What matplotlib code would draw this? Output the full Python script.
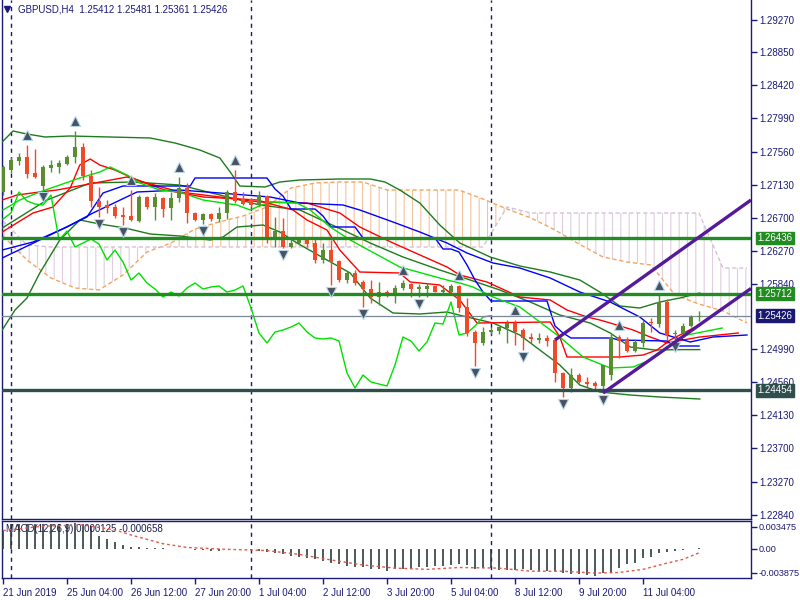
import matplotlib
matplotlib.use("Agg")
import matplotlib.pyplot as plt
import matplotlib.transforms as mtransforms
from matplotlib.lines import Line2D
import numpy as np

plt.rcParams["font.family"] = ["Liberation Sans", "DejaVu Sans"]

# GBPUSD H4 candles, bar 0 = 21 Jun 20:00
opens = [1.27034, 1.27320, 1.27437, 1.27489, 1.27281, 1.27112, 1.27346, 1.27359, 1.27398, 1.27489,
         1.27619, 1.27242, 1.26917, 1.26865, 1.26839, 1.26735, 1.26722, 1.26657, 1.26969, 1.26839,
         1.26956, 1.26826, 1.26956, 1.27086, 1.26761, 1.26670, 1.26748, 1.26683, 1.26761, 1.27034,
         1.26943, 1.26943, 1.26865, 1.26982, 1.26410, 1.26527, 1.26319, 1.26371, 1.26423, 1.26371,
         1.26150, 1.26280, 1.26137, 1.25890, 1.25981, 1.25864, 1.25773, 1.25669, 1.25734, 1.25695,
         1.25786, 1.25838, 1.25773, 1.25773, 1.25812, 1.25734, 1.25734, 1.25812, 1.25539, 1.25214,
         1.25071, 1.25214, 1.25227, 1.25266, 1.25331, 1.25240, 1.25149, 1.25110, 1.25136, 1.25110,
         1.24681, 1.24486, 1.24655, 1.24564, 1.24551, 1.24512, 1.24655, 1.25149, 1.25123, 1.24967,
         1.25071, 1.25331, 1.25318, 1.25604, 1.25188, 1.25201, 1.25292, 1.25412]
highs = [1.27385, 1.27489, 1.27541, 1.27645, 1.27593, 1.27385, 1.27450, 1.27450, 1.27515, 1.27827,
         1.27671, 1.27320, 1.27099, 1.26930, 1.26878, 1.26839, 1.27060, 1.26995, 1.26982, 1.27021,
         1.26969, 1.27034, 1.27229, 1.27151, 1.26774, 1.26761, 1.26761, 1.26839, 1.27060, 1.27320,
         1.27034, 1.26956, 1.27047, 1.26995, 1.26709, 1.26696, 1.26449, 1.26449, 1.26449, 1.26449,
         1.26371, 1.26410, 1.26150, 1.26007, 1.26020, 1.25890, 1.25890, 1.25864, 1.25760, 1.25825,
         1.25890, 1.25851, 1.25838, 1.25851, 1.25812, 1.25825, 1.25838, 1.25825, 1.25656, 1.25240,
         1.25279, 1.25279, 1.25279, 1.25370, 1.25370, 1.25266, 1.25201, 1.25201, 1.25175, 1.25136,
         1.24694, 1.24746, 1.24681, 1.24629, 1.24577, 1.24785, 1.25188, 1.25175, 1.25149, 1.25123,
         1.25370, 1.25396, 1.25695, 1.25643, 1.25240, 1.25331, 1.25435, 1.25481]
lows = [1.26995, 1.27281, 1.27385, 1.27216, 1.27216, 1.27060, 1.27294, 1.27281, 1.27385, 1.27411,
        1.27190, 1.26839, 1.26709, 1.26761, 1.26696, 1.26605, 1.26657, 1.26644, 1.26813, 1.26670,
        1.26709, 1.26670, 1.26904, 1.26631, 1.26657, 1.26618, 1.26657, 1.26644, 1.26683, 1.26891,
        1.26865, 1.26839, 1.26852, 1.26371, 1.26319, 1.26306, 1.26306, 1.26345, 1.26319, 1.26111,
        1.26111, 1.25825, 1.25864, 1.25851, 1.25825, 1.25539, 1.25591, 1.25565, 1.25669, 1.25591,
        1.25760, 1.25669, 1.25669, 1.25669, 1.25734, 1.25695, 1.25721, 1.25474, 1.25162, 1.24772,
        1.25045, 1.25188, 1.25188, 1.25071, 1.25045, 1.24980, 1.25071, 1.25071, 1.25032, 1.24564,
        1.24369, 1.24434, 1.24551, 1.24499, 1.24460, 1.24421, 1.24590, 1.24876, 1.24954, 1.24954,
        1.25019, 1.25214, 1.25279, 1.25110, 1.25110, 1.25175, 1.25279, 1.25361]
closes = [1.27359, 1.27450, 1.27489, 1.27268, 1.27229, 1.27359, 1.27385, 1.27411, 1.27489, 1.27619,
          1.27242, 1.26917, 1.26839, 1.26826, 1.26722, 1.26709, 1.26670, 1.26969, 1.26839, 1.26969,
          1.26813, 1.26956, 1.27086, 1.26761, 1.26670, 1.26748, 1.26683, 1.26761, 1.27034, 1.26917,
          1.26878, 1.26865, 1.26995, 1.26410, 1.26527, 1.26319, 1.26371, 1.26423, 1.26358, 1.26150,
          1.26280, 1.26124, 1.25890, 1.25981, 1.25851, 1.25773, 1.25669, 1.25734, 1.25682, 1.25786,
          1.25851, 1.25773, 1.25799, 1.25812, 1.25734, 1.25760, 1.25812, 1.25526, 1.25201, 1.25071,
          1.25214, 1.25240, 1.25279, 1.25331, 1.25214, 1.25136, 1.25123, 1.25136, 1.25097, 1.24681,
          1.24486, 1.24655, 1.24564, 1.24538, 1.24512, 1.24785, 1.25149, 1.25097, 1.24967, 1.25084,
          1.25331, 1.25318, 1.25604, 1.25175, 1.25201, 1.25292, 1.25409, 1.25426]

date_ticks = [0, 8, 16, 24, 32, 40, 48, 56, 64, 72, 80]
date_labels = ["21 Jun 2019", "25 Jun 04:00", "26 Jun 12:00", "27 Jun 20:00", "1 Jul 04:00",
               "2 Jul 12:00", "3 Jul 20:00", "5 Jul 04:00", "8 Jul 12:00", "9 Jul 20:00", "11 Jul 04:00"]
week_starts = [1, 31, 61]
price_ticks = [1.29270, 1.28850, 1.28420, 1.27990, 1.27560, 1.27130, 1.26700, 1.26270, 1.25840,
               1.24990, 1.24560, 1.24130, 1.23700, 1.23270, 1.22840]

# Bollinger bands
bb_up_x = [-0.1, 1.25, 3, 5.25, 8.4, 13.4, 18.4, 21.5, 24.6, 27.1, 28.4, 29.6, 32.75, 34.6, 37.1, 42.1,
           45.9, 47.75, 49.6, 52.1, 54.6, 57.1, 60.9, 64.6, 68.4, 72.1, 74.6, 77.1, 79.6, 82.1, 84.6, 87.1]
bb_up = [1.27684, 1.27827, 1.27788, 1.27749, 1.27762, 1.27749, 1.27736, 1.27671, 1.2758, 1.27476, 1.27294,
         1.27112, 1.27099, 1.27164, 1.2719, 1.27203, 1.27203, 1.27164, 1.2706, 1.26891, 1.26605, 1.26371,
         1.26189, 1.26072, 1.25994, 1.2589, 1.25734, 1.25552, 1.25526, 1.25604, 1.25656, 1.25721]
bb_mid_x = [-0.1, 5.5, 10.9, 16.25, 22.1, 27.1, 32.1, 37.1, 42.5, 45.9, 50, 54.6, 58.4, 62.1, 65.9,
            69.6, 73.4, 75.9, 78.4, 81.5, 84.6, 87.1]
bb_mid = [1.26566, 1.2693, 1.27151, 1.27164, 1.27125, 1.26995, 1.26865, 1.268, 1.2654, 1.26371, 1.26189,
          1.2602, 1.2589, 1.2576, 1.25604, 1.25435, 1.25331, 1.25201, 1.25019, 1.2498, 1.24985, 1.24985]
bb_lo_x = [-0.1, 1.5, 3, 4.6, 7.1, 9.6, 12.1, 15.25, 18.4, 22.1, 25.9, 27.5, 29.25, 32.5, 34.6, 36.75,
           40.5, 43.4, 45.9, 48.75, 52.1, 55.5, 58, 61.25, 64.6, 67.1, 69.6, 72.1, 74.6, 78.4, 82.1, 87.1]
bb_lo = [1.2524, 1.255, 1.25656, 1.25981, 1.2641, 1.2667, 1.26618, 1.26566, 1.26488, 1.26462, 1.2641,
         1.26449, 1.26579, 1.26605, 1.26514, 1.26371, 1.2615, 1.25981, 1.25656, 1.25461, 1.25448, 1.25474,
         1.25409, 1.25331, 1.25175, 1.2498, 1.24785, 1.24525, 1.24434, 1.24395, 1.24369, 1.24343]

# Ichimoku tenkan / kijun
tenkan_x = [-0.1, 3.75, 6.25, 8.4, 9.6, 10.9, 12.1, 14, 15.9, 17.75, 20.25, 25, 31.75, 36.25, 38, 40.5,
            42.1, 44.6, 49.6, 50.9, 54.6, 57.1, 59.25, 68.4, 69.6, 70.5, 77.1, 80, 81.75, 83.4, 87]
tenkan = [1.26514, 1.26761, 1.26839, 1.27086, 1.27385, 1.27463, 1.27385, 1.2732, 1.27229, 1.27151, 1.2706,
          1.26969, 1.2693, 1.268, 1.2667, 1.2654, 1.2628, 1.25994, 1.25981, 1.25864, 1.25825, 1.2563,
          1.25331, 1.25344, 1.25149, 1.24889, 1.24889, 1.24915, 1.2498, 1.2511, 1.25305]
kijun_x = [-0.1, 4.6, 10.5, 12.5, 15, 23.4, 24, 33, 34, 35, 36, 39, 40, 41, 44, 45, 54, 55, 56, 57, 58,
           59, 60, 61, 68, 69, 70, 71, 76, 77, 83, 84, 87]
kijun = [1.26176, 1.2641, 1.26709, 1.27021, 1.27112, 1.27112, 1.27216, 1.27216, 1.27073, 1.26982, 1.26813,
         1.26813, 1.26722, 1.26579, 1.26579, 1.26436, 1.26436, 1.26293, 1.26293, 1.26254, 1.26085, 1.2589,
         1.25734, 1.25617, 1.25617, 1.25292, 1.25201, 1.25136, 1.25136, 1.2511, 1.25097, 1.25032, 1.25032]

# Alligator jaw / teeth / lips (shifted forward)
jaw_x = [-0.1, 3.75, 8, 11.25, 16.75, 22.1, 27.1, 33.4, 37.1, 42.5, 44.6, 48.75, 52.1, 55.5, 58, 61.25,
         64.6, 68.4, 72.1, 75.9, 79.6, 82.1, 85.9, 88.75, 93]
jaw = [1.2628, 1.26384, 1.26579, 1.26761, 1.27034, 1.2706, 1.27021, 1.26969, 1.26891, 1.26865, 1.268,
       1.26644, 1.26514, 1.26371, 1.26241, 1.26111, 1.26046, 1.25916, 1.25734, 1.25604, 1.25409, 1.25201,
       1.25084, 1.25149, 1.25175]
teeth_x = [-0.1, 1.75, 4.6, 6.75, 15.5, 18, 22.1, 32.1, 38, 42.1, 44.6, 48.75, 55.5, 57.1, 60.5, 64.6,
           68.4, 70.5, 73, 74.6, 75.9, 78.75, 80.9, 83, 85, 87.1, 91.9]
teeth = [1.2693, 1.26995, 1.27034, 1.2706, 1.27229, 1.27151, 1.27034, 1.26904, 1.26891, 1.26761, 1.26579,
         1.26371, 1.26059, 1.25955, 1.25864, 1.25669, 1.2563, 1.255, 1.25409, 1.2537, 1.25331, 1.2524,
         1.25149, 1.25071, 1.2511, 1.25149, 1.25201]
lips_x = [0, 2.1, 4.6, 7.1, 9.6, 12.1, 13.4, 15.5, 17.1, 19.6, 22.1, 25, 29.25, 30.9, 31.75, 33.4, 36.75,
          38.4, 40.9, 43.4, 49.6, 55.5, 57.1, 58.75, 61.25, 64.6, 67.1, 69.6, 72.5, 75.9, 78.75, 80.9,
          83, 85.5, 89.9]
lips = [1.268, 1.2693, 1.27034, 1.27125, 1.27216, 1.27294, 1.27359, 1.27255, 1.27151, 1.2706, 1.27034,
        1.2693, 1.26865, 1.268, 1.26839, 1.26904, 1.26891, 1.268, 1.26579, 1.2641, 1.26059, 1.2589,
        1.25851, 1.25799, 1.25669, 1.25539, 1.25344, 1.25149, 1.24889, 1.24746, 1.24759, 1.2485,
        1.25019, 1.25175, 1.25266]

# Ichimoku cloud (senkou spans, every third bar)
cloud_x = [0, 3, 6, 9, 12, 15, 18, 21, 24, 27, 30, 33, 36, 39, 42, 45, 48, 51, 54, 57, 60, 63, 66,
           69, 72, 75, 78, 81, 84, 87, 90, 93]
span_a = [1.26462, 1.2615, 1.25916, 1.25786, 1.2576, 1.25955, 1.26254, 1.26371, 1.26553, 1.26644,
          1.26722, 1.26839, 1.27086, 1.27151, 1.27164, 1.27164, 1.2706, 1.2706, 1.2706, 1.2706, 1.26943,
          1.26813, 1.26696, 1.2654, 1.26358, 1.26189, 1.26124, 1.26085, 1.25695, 1.25578, 1.25487, 1.25331]
span_b = [1.26657, 1.26345, 1.26319, 1.26319, 1.26319, 1.26319, 1.26319, 1.26319, 1.26319, 1.26319,
          1.26319, 1.26319, 1.26319, 1.26319, 1.26319, 1.26319, 1.26319, 1.26319, 1.26319, 1.26319,
          1.26319, 1.26839, 1.26761, 1.26761, 1.26761, 1.26761, 1.26761, 1.26761, 1.26761, 1.26761,
          1.26046, 1.26046]

up_fractals = [3, 9, 16, 22, 29, 50, 57, 64, 77, 82]
down_fractals = [5, 12, 15, 25, 35, 41, 45, 52, 59, 65, 70, 75, 84]

levels = {1.26436: "#228B22", 1.25712: "#228B22", 1.24454: "#2F4F4F"}
last_price = 1.25426
channel_up = ([69, 93.5], [1.25110, 1.26930])
channel_lo = ([75, 93.5], [1.24421, 1.25780])

# MACD(12,26,9)
macd = [0.0030, 0.0039, 0.0040, 0.0040, 0.0040, 0.0039, 0.0040, 0.0040, 0.0040, 0.0041,
        0.0040, 0.0036, 0.0020, 0.0015, 0.0010, 0.00064, 0.00032, 0.00021, 0.00016, 0.00016,
        0.00005, 0.00003, -0.0001, -0.0001, -0.0002, -0.0002, -0.0003, -0.0004, -0.0001, -0.00005,
        -0.0001, -0.0002, -0.00032, -0.00048, -0.00074, -0.0009, -0.00112, -0.00133, -0.00144, -0.0017,
        -0.00192, -0.00224, -0.0025, -0.00272, -0.00287, -0.00298, -0.0033, -0.0033, -0.00356, -0.0033,
        -0.0033, -0.0033, -0.00298, -0.00287, -0.00276, -0.00276, -0.00261, -0.0025, -0.00261, -0.0033,
        -0.00314, -0.00314, -0.00341, -0.00341, -0.00341, -0.0033, -0.00341, -0.00356, -0.00356, -0.00356,
        -0.00394, -0.0041, -0.0041, -0.00426, -0.00436, -0.00394, -0.00367, -0.00314, -0.0025, -0.00224,
        -0.00154, -0.00128, -0.00074, -0.00048, -0.00032, -0.00021, -0.00005, 0.000125]
signal_x = [0, 5, 10, 14, 16, 18, 20, 23, 28, 31, 33, 37, 41, 45, 49, 53, 57, 62, 66, 70, 74, 77,
            80, 83, 85, 87]
signal = [0.0029, 0.0036, 0.0038, 0.0030, 0.0022, 0.0015, 0.0008, 0.0002, -0.0001, -0.0002, -0.0003,
          -0.0009, -0.0018, -0.0026, -0.0031, -0.0033, -0.0030, -0.0031, -0.0036, -0.0036, -0.0039,
          -0.0038, -0.0033, -0.0023, -0.0017, -0.00066]

NAVY = "#1a1a78"
UP = "#5b8c32"
DOWN = "#f04b28"
FS = 7

fig = plt.figure(figsize=(8, 6), dpi=100)
fig.patch.set_facecolor("white")
ax = fig.add_axes([2 / 800, 81 / 600, 749 / 800, 519 / 600])
axm = fig.add_axes([2 / 800, 22 / 600, 749 / 800, 57 / 600], sharex=ax)

o = np.array(opens); h = np.array(highs); l = np.array(lows); c = np.array(closes)
bars = np.arange(len(o))

# cloud
cx = np.array(cloud_x); sa = np.array(span_a); sb = np.array(span_b)
plt.rcParams["hatch.linewidth"] = 0.8
ax.fill_between(cx, sa, sb, where=sa >= sb, interpolate=True, facecolor="none",
                edgecolor="#f6c29a", hatch="||", linewidth=0, zorder=1)
ax.fill_between(cx, sa, sb, where=sa < sb, interpolate=True, facecolor="none",
                edgecolor="#e0cce0", hatch="||", linewidth=0, zorder=1)
ax.plot(cx, sa, color="#f4a460", lw=1, ls=(0, (3, 2)), zorder=2)
ax.plot(cx, sb, color="#d8bfd8", lw=1, ls=(0, (3, 2)), zorder=2)

# indicator lines
ax.plot(bb_up_x, bb_up, color="#1e7b1e", lw=1, zorder=3)
ax.plot(bb_mid_x, bb_mid, color="#1e7b1e", lw=1, zorder=3)
ax.plot(bb_lo_x, bb_lo, color="#1e7b1e", lw=1, zorder=3)
ax.plot(tenkan_x, tenkan, color="#ff0000", lw=1, zorder=3)
ax.plot(teeth_x, teeth, color="#ff0000", lw=1, zorder=3)
ax.plot(kijun_x, kijun, color="#0000ff", lw=1, zorder=3)
ax.plot(jaw_x, jaw, color="#0000ff", lw=1, zorder=3)
ax.plot(lips_x, lips, color="#00e000", lw=1, zorder=3)
ax.plot(bars[:-26], c[26:], color="#00e000", lw=1, zorder=3)  # chikou span

# weekly separators
for wb in week_starts:
    ax.axvline(wb, color=NAVY, lw=1, ls=(0, (3, 3)), zorder=1.5)
    axm.axvline(wb, color=NAVY, lw=1, ls=(0, (3, 3)), zorder=1.5)

# candles
col = np.where(c >= o, UP, DOWN)
ax.vlines(bars, l, h, colors=col, lw=1, zorder=4)
body = np.where(np.abs(c - o) < 0.00013, 0.00013, c - o)
ax.bar(bars, body, bottom=o, width=0.62, color=col, linewidth=0, zorder=4)

# fractals
uf = np.array(up_fractals); df = np.array(down_fractals)
ax.plot(uf, h[uf] + 0.0013, ls="none", marker="^", ms=6.5, mfc="#4a5262", mec="#b4d6ea", mew=0.8, zorder=6)
ax.plot(df, l[df] - 0.0009, ls="none", marker="v", ms=6.5, mfc="#4a5262", mec="#b4d6ea", mew=0.8, zorder=6)

# levels and channel
for lev, lc in levels.items():
    ax.axhline(lev, color=lc, lw=2.4, zorder=5)
ax.axhline(last_price, color="#778899", lw=0.9, zorder=3.5)
ax.plot(*channel_up, color="#551a99", lw=2.4, zorder=6, solid_capstyle="butt")
ax.plot(*channel_lo, color="#551a99", lw=2.4, zorder=6, solid_capstyle="butt")

ax.set_xlim(-0.125, 93.5)
ax.set_ylim(1.22783, 1.2953)
ax.yaxis.tick_right()
ax.set_yticks(price_ticks)
ax.set_yticklabels(["%.5f" % p for p in price_ticks])
ax.tick_params(axis="y", length=4, width=1, color=NAVY, labelcolor=NAVY, labelsize=FS, pad=2)
ax.tick_params(axis="x", bottom=False, labelbottom=False)
for sp in ax.spines.values():
    sp.set_color(NAVY)
    sp.set_linewidth(1)
ax.spines["top"].set_visible(False)

tr = mtransforms.blended_transform_factory(ax.transAxes, ax.transData)
boxes = [(1.26436, "#228B22"), (1.25712, "#228B22"), (last_price, "#191970"), (1.24454, "#2F4F4F")]
for val, bc in boxes:
    ax.text(1.009, val, "%.5f" % val, transform=tr, ha="left", va="center", fontsize=FS, color="white",
            bbox=dict(boxstyle="square,pad=0.15", fc=bc, ec=bc), clip_on=False, zorder=10)

fig.add_artist(Line2D([7 / 800], [1 - 9 / 600], transform=fig.transFigure, marker="v", ms=4.5,
                      color=NAVY, ls="none"))
fig.text(18 / 800, 1 - 10 / 600, "GBPUSD,H4  1.25412 1.25481 1.25361 1.25426", fontsize=FS,
         color=NAVY, ha="left", va="center")

# MACD panel
axm.vlines(bars, 0, macd, colors="#2d3d3d", lw=1.2, zorder=3)
axm.plot(signal_x, signal, color="#e05a4a", lw=1, ls=(0, (2, 2)), zorder=4)
axm.set_ylim(-0.00468, 0.00443)
axm.yaxis.tick_right()
axm.set_yticks([0.003475, 0.0, -0.003875])
axm.set_yticklabels(["0.003475", "0.00", "-0.003875"])
axm.tick_params(axis="y", length=4, width=1, color=NAVY, labelcolor=NAVY, labelsize=6.6, pad=1.5)
axm.set_xticks(date_ticks)
axm.set_xticklabels(date_labels, ha="left")
axm.tick_params(axis="x", length=4, width=1, color=NAVY, labelcolor=NAVY, labelsize=FS, pad=3)
for sp in axm.spines.values():
    sp.set_color(NAVY)
    sp.set_linewidth(1)
axm.text(0.006, 0.86, "MACD(12,26,9) 0.000125 -0.000658", transform=axm.transAxes, fontsize=FS,
         color="#1e1e50", ha="left", va="center")

fig.savefig("out.png", dpi=100)
